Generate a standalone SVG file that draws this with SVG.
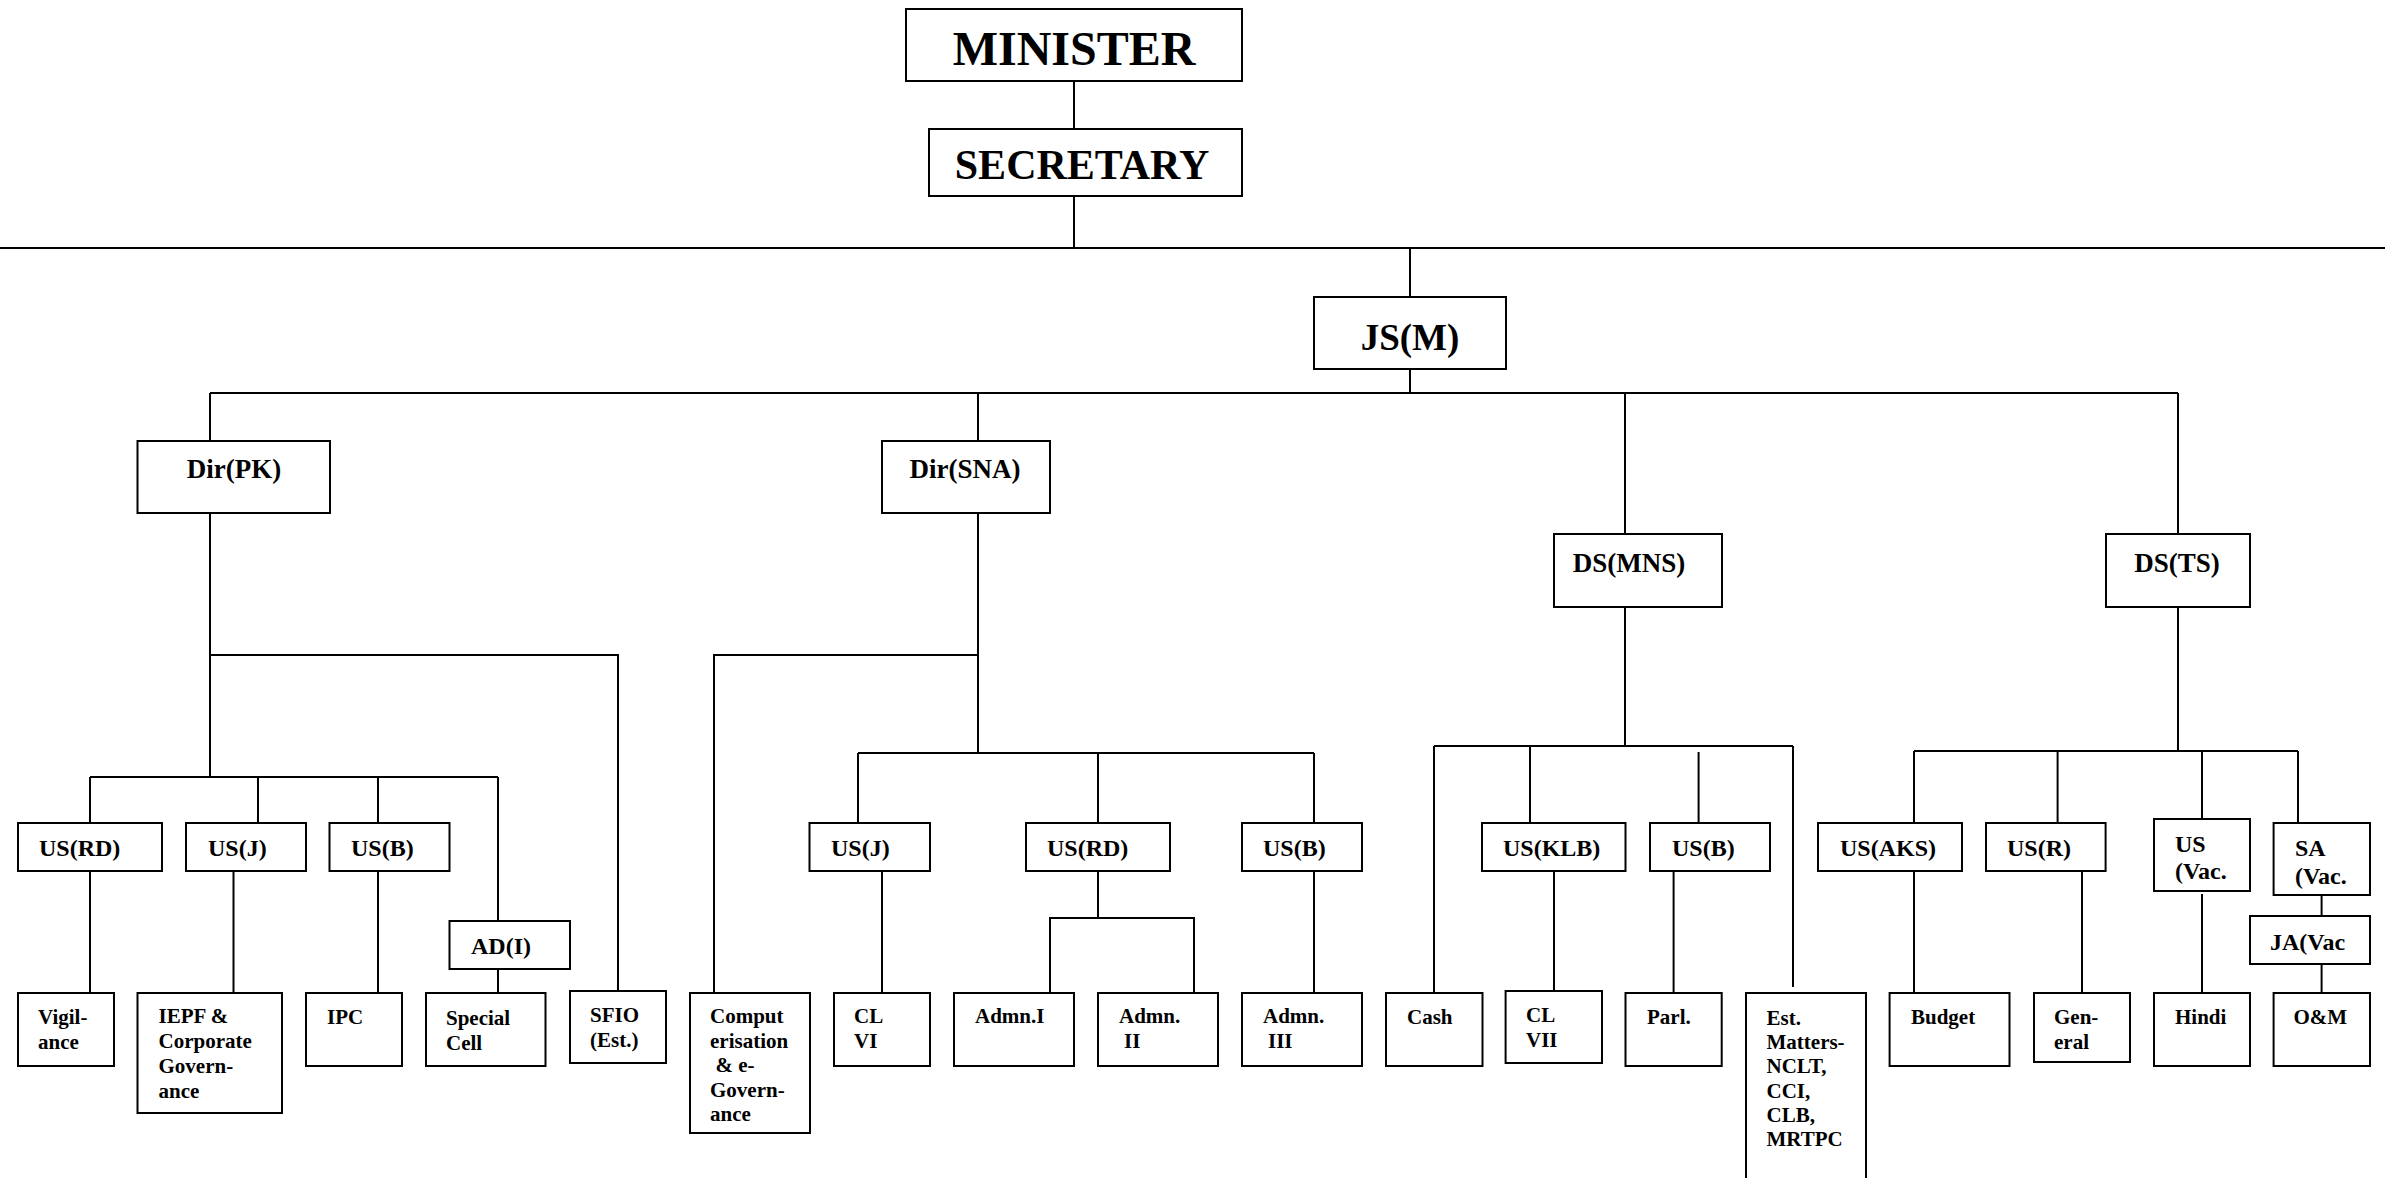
<svg xmlns="http://www.w3.org/2000/svg" width="2385" height="1178" viewBox="0 0 2385 1178">
<style>
.box{fill:#fff;stroke:#000;stroke-width:2}
.t{font-family:"Liberation Serif","Times New Roman",serif;font-weight:bold;fill:#000}
.s21{font-size:21px}
.s24{font-size:24px}
.s27{font-size:27px}
.c{fill:none;stroke:#000;stroke-width:2}
</style>
<rect width="2385" height="1178" fill="#fff"/>
<g id="connectors" class="c">
<path d="M1074 81V129"/>
<path d="M1074 196V248"/>
<path d="M0 248H2385"/>
<path d="M1410 248V297"/>
<path d="M1410 369V393"/>
<path d="M210 393H2178"/>
<path d="M210 393V441"/>
<path d="M978 393V441"/>
<path d="M1625 393V534"/>
<path d="M2178 393V534"/>
<path d="M210 513V777"/>
<path d="M210 655H618V991"/>
<path d="M90 777H498"/>
<path d="M90 777V823"/>
<path d="M258 777V823"/>
<path d="M378 777V823"/>
<path d="M498 777V921"/>
<path d="M90 871V993"/>
<path d="M233.5 871V993"/>
<path d="M378 871V993"/>
<path d="M498 969V993"/>
<path d="M978 513V753"/>
<path d="M978 655H714V993"/>
<path d="M858 753H1314"/>
<path d="M858 753V823"/>
<path d="M1098 753V823"/>
<path d="M1314 753V823"/>
<path d="M882 871V993"/>
<path d="M1098 871V918"/>
<path d="M1050 993V918H1194V993"/>
<path d="M1314 871V993"/>
<path d="M1625 607V746"/>
<path d="M1434 746H1793"/>
<path d="M1434 746V993"/>
<path d="M1530 746V823"/>
<path d="M1698.6 752V823"/>
<path d="M1793 746V987"/>
<path d="M1554 871V991"/>
<path d="M1673.6 871V993"/>
<path d="M2178 607V751"/>
<path d="M1914 751H2298"/>
<path d="M1914 751V993"/>
<path d="M2057.6 751V823"/>
<path d="M2202 751V819"/>
<path d="M2298 751V823"/>
<path d="M2082 871V993"/>
<path d="M2202 894V993"/>
<path d="M2321.6 895V916"/>
<path d="M2321.6 964V993"/>
</g>
<g id="minister"><rect class="box" x="906" y="9" width="336" height="72"/><text class="t" x="1074" y="65" font-size="48" text-anchor="middle">MINISTER</text></g>
<g id="secretary"><rect class="box" x="929" y="129" width="313" height="67"/><text class="t" x="1082" y="179" font-size="42" text-anchor="middle">SECRETARY</text></g>
<g id="jsm"><rect class="box" x="1314" y="297" width="192" height="72"/><text class="t" x="1410" y="350" font-size="37" text-anchor="middle">JS(M)</text></g>
<g id="dirpk"><rect class="box" x="137.5" y="441" width="192.5" height="72"/><text class="t s27" x="234" y="478" text-anchor="middle">Dir(PK)</text></g>
<g id="dirsna"><rect class="box" x="882" y="441" width="168" height="72"/><text class="t s27" x="965" y="478" text-anchor="middle">Dir(SNA)</text></g>
<g id="dsmns"><rect class="box" x="1554" y="534" width="168" height="73"/><text class="t s27" x="1629" y="572" text-anchor="middle">DS(MNS)</text></g>
<g id="dsts"><rect class="box" x="2106" y="534" width="144" height="73"/><text class="t s27" x="2177" y="572" text-anchor="middle">DS(TS)</text></g>
<g id="usrd1"><rect class="box" x="18" y="823" width="144" height="48"/><text class="t s24" x="39" y="856">US(RD)</text></g>
<g id="usj1"><rect class="box" x="186" y="823" width="120" height="48"/><text class="t s24" x="208" y="856">US(J)</text></g>
<g id="usb1"><rect class="box" x="329.5" y="823" width="120" height="48"/><text class="t s24" x="351" y="856">US(B)</text></g>
<g id="adi"><rect class="box" x="449.5" y="921" width="120.5" height="48"/><text class="t s24" x="471" y="954">AD(I)</text></g>
<g id="usj2"><rect class="box" x="809.5" y="823" width="120.5" height="48"/><text class="t s24" x="831" y="856">US(J)</text></g>
<g id="usrd2"><rect class="box" x="1026" y="823" width="144" height="48"/><text class="t s24" x="1047" y="856">US(RD)</text></g>
<g id="usb2"><rect class="box" x="1242" y="823" width="120" height="48"/><text class="t s24" x="1263" y="856">US(B)</text></g>
<g id="usklb"><rect class="box" x="1482" y="823" width="143.5" height="48"/><text class="t s24" x="1503" y="856">US(KLB)</text></g>
<g id="usb3"><rect class="box" x="1650" y="823" width="120" height="48"/><text class="t s24" x="1672" y="856">US(B)</text></g>
<g id="usaks"><rect class="box" x="1818" y="823" width="144" height="48"/><text class="t s24" x="1840" y="856">US(AKS)</text></g>
<g id="usr"><rect class="box" x="1986" y="823" width="119.6" height="48"/><text class="t s24" x="2007" y="856">US(R)</text></g>
<g id="usvac"><rect class="box" x="2154" y="819" width="96" height="72"/><text class="t s24" x="2175" y="852">US</text><text class="t s24" x="2175" y="879">(Vac.</text></g>
<g id="savac"><rect class="box" x="2273.6" y="823" width="96.4" height="72"/><text class="t s24" x="2295" y="856">SA</text><text class="t s24" x="2295" y="884">(Vac.</text></g>
<g id="javac"><rect class="box" x="2250" y="916" width="120" height="48"/><text class="t s24" x="2270" y="950">JA(Vac</text></g>
<g id="vigilance"><rect class="box" x="18" y="993" width="96" height="73"/><text class="t s21" x="38" y="1024">Vigil-</text><text class="t s21" x="38" y="1049">ance</text></g>
<g id="iepf"><rect class="box" x="137.5" y="993" width="144.5" height="120"/><text class="t s21" x="158.5" y="1023">IEPF &amp;</text><text class="t s21" x="158.5" y="1048">Corporate</text><text class="t s21" x="158.5" y="1073">Govern-</text><text class="t s21" x="158.5" y="1098">ance</text></g>
<g id="ipc"><rect class="box" x="306" y="993" width="96" height="73"/><text class="t s21" x="327" y="1024">IPC</text></g>
<g id="specialcell"><rect class="box" x="426" y="993" width="119.5" height="73"/><text class="t s21" x="446" y="1025">Special</text><text class="t s21" x="446" y="1050">Cell</text></g>
<g id="sfio"><rect class="box" x="570" y="991" width="96" height="72"/><text class="t s21" x="590" y="1022">SFIO</text><text class="t s21" x="590" y="1047">(Est.)</text></g>
<g id="computerisation"><rect class="box" x="690" y="993" width="120" height="140"/><text class="t s21" x="710" y="1023">Comput</text><text class="t s21" x="710" y="1047.5">erisation</text><text class="t s21" x="715.5" y="1072">&amp; e-</text><text class="t s21" x="710" y="1096.5">Govern-</text><text class="t s21" x="710" y="1121">ance</text></g>
<g id="clvi"><rect class="box" x="834" y="993" width="96" height="73"/><text class="t s21" x="854" y="1023">CL</text><text class="t s21" x="854" y="1048">VI</text></g>
<g id="admn1"><rect class="box" x="954" y="993" width="120" height="73"/><text class="t s21" x="975" y="1023">Admn.I</text></g>
<g id="admn2"><rect class="box" x="1098" y="993" width="120" height="73"/><text class="t s21" x="1119" y="1023">Admn.</text><text class="t s21" x="1124" y="1048">II</text></g>
<g id="admn3"><rect class="box" x="1242" y="993" width="120" height="73"/><text class="t s21" x="1263" y="1023">Admn.</text><text class="t s21" x="1268" y="1048">III</text></g>
<g id="cash"><rect class="box" x="1386" y="993" width="96.5" height="73"/><text class="t s21" x="1407" y="1024">Cash</text></g>
<g id="clvii"><rect class="box" x="1505.6" y="991" width="96.4" height="72"/><text class="t s21" x="1526" y="1022">CL</text><text class="t s21" x="1526" y="1047">VII</text></g>
<g id="parl"><rect class="box" x="1625.5" y="993" width="96.2" height="73"/><text class="t s21" x="1647" y="1024">Parl.</text></g>
<g id="estmatters"><path class="box" d="M1746 1180V993H1866V1180"/><text class="t s21" x="1766.5" y="1025">Est.</text><text class="t s21" x="1766.5" y="1049">Matters-</text><text class="t s21" x="1766.5" y="1073">NCLT,</text><text class="t s21" x="1766.5" y="1098">CCI,</text><text class="t s21" x="1766.5" y="1122">CLB,</text><text class="t s21" x="1766.5" y="1146">MRTPC</text></g>
<g id="budget"><rect class="box" x="1889.6" y="993" width="119.9" height="73"/><text class="t s21" x="1911" y="1024">Budget</text></g>
<g id="general"><rect class="box" x="2034" y="993" width="96" height="69"/><text class="t s21" x="2054" y="1024">Gen-</text><text class="t s21" x="2054" y="1049">eral</text></g>
<g id="hindi"><rect class="box" x="2154" y="993" width="96" height="73"/><text class="t s21" x="2175" y="1024">Hindi</text></g>
<g id="om"><rect class="box" x="2273.6" y="993" width="96.4" height="73"/><text class="t s21" x="2293.5" y="1024">O&amp;M</text></g>
</svg>
